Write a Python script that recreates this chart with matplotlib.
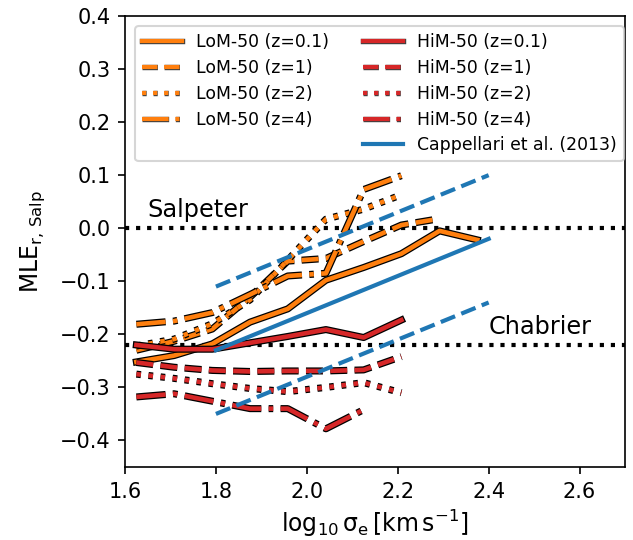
import matplotlib.pyplot as plt
import matplotlib.patheffects as pe
from matplotlib.lines import Line2D

# log10 sigma_e bin centres
sigma_bins = [1.625, 1.708, 1.792, 1.875, 1.958, 2.042, 2.125, 2.208, 2.292, 2.375]

# LoM-50 at four redshifts
lom_z01 = [-0.252, -0.240, -0.218, -0.177, -0.152, -0.098, -0.074, -0.048, -0.005, -0.022]
lom_z1  = [-0.230, -0.213, -0.190, -0.130, -0.062, -0.057, -0.025, 0.006, 0.018]
lom_z2  = [-0.222, -0.209, -0.180, -0.135, -0.060, 0.017, 0.036, 0.063]
lom_z4  = [-0.181, -0.175, -0.159, -0.125, -0.090, -0.085, 0.073, 0.099]

# HiM-50 at four redshifts
him_z01 = [-0.220, -0.228, -0.228, -0.216, -0.204, -0.191, -0.206, -0.173]
him_z1  = [-0.253, -0.262, -0.268, -0.270, -0.269, -0.269, -0.267, -0.242]
him_z2  = [-0.275, -0.283, -0.293, -0.302, -0.308, -0.300, -0.291, -0.310]
him_z4  = [-0.318, -0.312, -0.326, -0.340, -0.340, -0.378, -0.342]

# Cappellari et al. (2013) relation and scatter
capp_x     = [1.8, 2.4]
capp_y     = [-0.23, -0.02]
capp_upper = [-0.11, 0.10]
capp_lower = [-0.35, -0.14]

salpeter = 0.0
chabrier = -0.22

fig = plt.figure(figsize=(633/150, 540/150), dpi=150)
ax = fig.add_axes([0.1975, 0.1352, 0.7899, 0.8352])

ax.axhline(salpeter, color='k', ls=':', lw=2)
ax.axhline(chabrier, color='k', ls=':', lw=2)

outline = [pe.Stroke(linewidth=3.4, foreground='k'), pe.Normal()]
thin_outline = [pe.Stroke(linewidth=2.6, foreground='0.25'), pe.Normal()]

handles = []
for vals, ls, z in [(lom_z01, '-', '0.1'), (lom_z1, '--', '1'), (lom_z2, ':', '2'), (lom_z4, '-.', '4')]:
    ax.plot(sigma_bins[:len(vals)], vals, color='tab:orange', ls=ls, lw=2.2, path_effects=outline)
    handles.append(Line2D([], [], color='tab:orange', ls=ls, lw=2, path_effects=thin_outline,
                          label='LoM-50 (z=%s)' % z))

handles.append(Line2D([], [], alpha=0, label=' '))

for vals, ls, z in [(him_z01, '-', '0.1'), (him_z1, '--', '1'), (him_z2, ':', '2'), (him_z4, '-.', '4')]:
    ax.plot(sigma_bins[:len(vals)], vals, color='tab:red', ls=ls, lw=2.2, path_effects=outline)
    handles.append(Line2D([], [], color='tab:red', ls=ls, lw=2, path_effects=thin_outline,
                          label='HiM-50 (z=%s)' % z))

l, = ax.plot(capp_x, capp_y, color='tab:blue', lw=2, label='Cappellari et al. (2013)')
handles.append(l)
ax.plot(capp_x, capp_upper, color='tab:blue', lw=2, ls='--')
ax.plot(capp_x, capp_lower, color='tab:blue', lw=2, ls='--')

ax.text(1.65, 0.022, 'Salpeter', fontsize=11.5, va='baseline')
ax.text(2.4, -0.199, 'Chabrier', fontsize=11.5, va='baseline')

ax.set_xlim(1.6, 2.7)
ax.set_ylim(-0.45, 0.4)
ax.set_xticks([1.6, 1.8, 2.0, 2.2, 2.4, 2.6])
ax.set_yticks([-0.4, -0.3, -0.2, -0.1, 0.0, 0.1, 0.2, 0.3, 0.4])
ax.tick_params(labelsize=10)

ax.set_xlabel(r'$\log_{10}\mathrm{\sigma}_{\rm e}\,[{\rm km\,s^{-1}}]$', fontsize=11.3, labelpad=3)
ax.set_ylabel(r'$\mathrm{MLE}_{\rm r,\,Salp}$', fontsize=11.3, labelpad=6)

ax.legend(handles=handles, ncol=2, loc='upper left', fontsize=8.3, labelspacing=0.45,
          handlelength=2.3, borderaxespad=0.6)

plt.savefig('out.png', dpi=150)
